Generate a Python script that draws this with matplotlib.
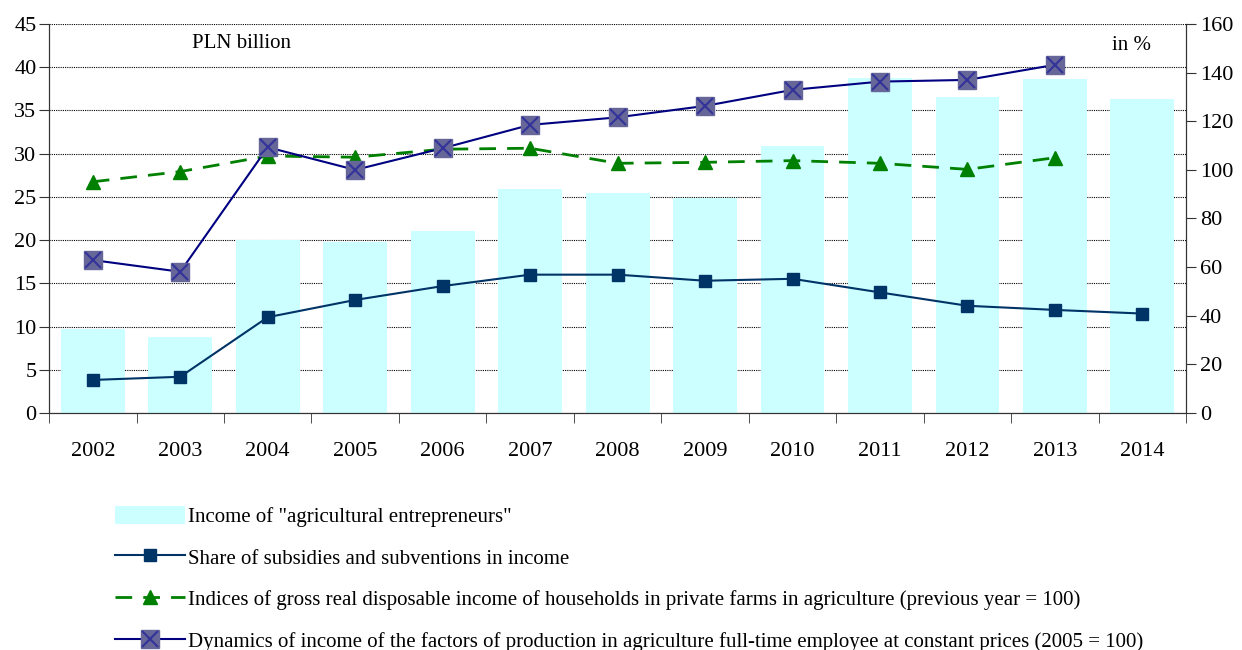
import matplotlib.pyplot as plt
import numpy as np
from matplotlib.legend_handler import HandlerTuple

plt.rcParams['font.family'] = ['Liberation Serif', 'DejaVu Serif']

years = ["2002", "2003", "2004", "2005", "2006", "2007", "2008",
         "2009", "2010", "2011", "2012", "2013", "2014"]
# PLN billion (left axis)
income = [9.7, 8.75, 20.0, 19.75, 21.05, 25.9, 25.45, 24.9, 30.9,
          38.8, 36.55, 38.6, 36.3]
# in % (right axis)
subsidy_share = [13.6, 14.9, 39.4, 46.5, 52.2, 56.9, 56.9, 54.4, 55.2,
                 49.6, 44.1, 42.4, 40.9]
disposable_index = [95.1, 99.3, 105.7, 105.2, 108.5, 108.9, 102.7, 103.1,
                    103.8, 102.7, 100.2, 105.0]
factor_dynamics = [62.9, 58.1, 109.3, 100.0, 108.9, 118.5, 121.6, 126.3,
                   132.9, 136.3, 137.0, 143.2]

fig = plt.figure(figsize=(12.42, 6.5), dpi=100)
ax1 = fig.add_axes([0.0395, 0.3646, 0.9155, 0.5985])
ax2 = ax1.twinx()

x = np.arange(len(years))
bars = ax1.bar(x, income, width=0.73, color="#CCFFFF", zorder=2)
ax1.set_ylim(0, 45)
ax1.set_yticks(range(0, 46, 5))
ax1.set_xlim(-0.5, len(years) - 0.5)
ax1.yaxis.grid(True, linestyle=(0, (1, 1)), color="black", linewidth=0.8,
               zorder=1)
ax1.set_axisbelow(True)

ax1.set_xticks(x)
ax1.set_xticklabels(years)
ax1.set_xticks(np.arange(-0.5, len(years)), minor=True)
ax1.tick_params(axis='x', which='major', length=0, pad=21, labelsize=16)
ax1.tick_params(axis='x', which='minor', length=7, direction='out',
                color="#333333")
ax1.tick_params(axis='y', labelsize=16, length=7, direction='out',
                color="#333333", pad=2)

ax2.set_ylim(0, 160)
ax2.set_yticks(range(0, 161, 20))
ax2.tick_params(axis='y', labelsize=16, length=7, direction='out',
                color="#333333", pad=3)

for ax in (ax1, ax2):
    ax.spines['top'].set_visible(False)
    ax.spines['left'].set_color("#333333")
    ax.spines['right'].set_color("#333333")
    ax.spines['bottom'].set_color("#333333")

l_sub, = ax2.plot(x, subsidy_share, color="#003366", linewidth=1.5,
                  marker="s", markersize=9, markerfacecolor="#003366",
                  markeredgecolor="#003366", zorder=4)
l_idx, = ax2.plot(x[:len(disposable_index)], disposable_index,
                  color="#008000", linewidth=2, dashes=(6, 4),
                  marker="^", markersize=10, markerfacecolor="#008000",
                  markeredgecolor="#008000", zorder=4)
l_dyn, = ax2.plot(x[:len(factor_dynamics)], factor_dynamics,
                  color="#000080", linewidth=1.5, marker="s",
                  markersize=13, markerfacecolor="#666699",
                  markeredgecolor="#666699", zorder=5)
l_dynx, = ax2.plot(x[:len(factor_dynamics)], factor_dynamics,
                   linestyle="none", marker="x", markersize=11,
                   markeredgecolor="#333399", markeredgewidth=1.5, zorder=6)

ax1.text(0.126, 0.95, "PLN billion", transform=ax1.transAxes,
         fontsize=15, va="center")
ax1.text(0.935, 0.945, "in %", transform=ax1.transAxes,
         fontsize=15, va="center")

fig.legend([bars, l_sub, l_idx, (l_dyn, l_dynx)],
           ['Income of "agricultural entrepreneurs"',
            "Share of subsidies and subventions in income",
            "Indices of gross real disposable income of households in private "
            "farms in agriculture (previous year = 100)",
            "Dynamics of income of the factors of production in agriculture "
            "full-time employee at constant prices (2005 = 100)"],
           handler_map={tuple: HandlerTuple(ndivide=1)},
           loc="upper left", bbox_to_anchor=(0.0855, 0.235), frameon=False,
           fontsize=15, handlelength=3.4, handleheight=1.0,
           labelspacing=0.97, handletextpad=0.15, borderaxespad=0)

plt.savefig("out.png", dpi=100)
